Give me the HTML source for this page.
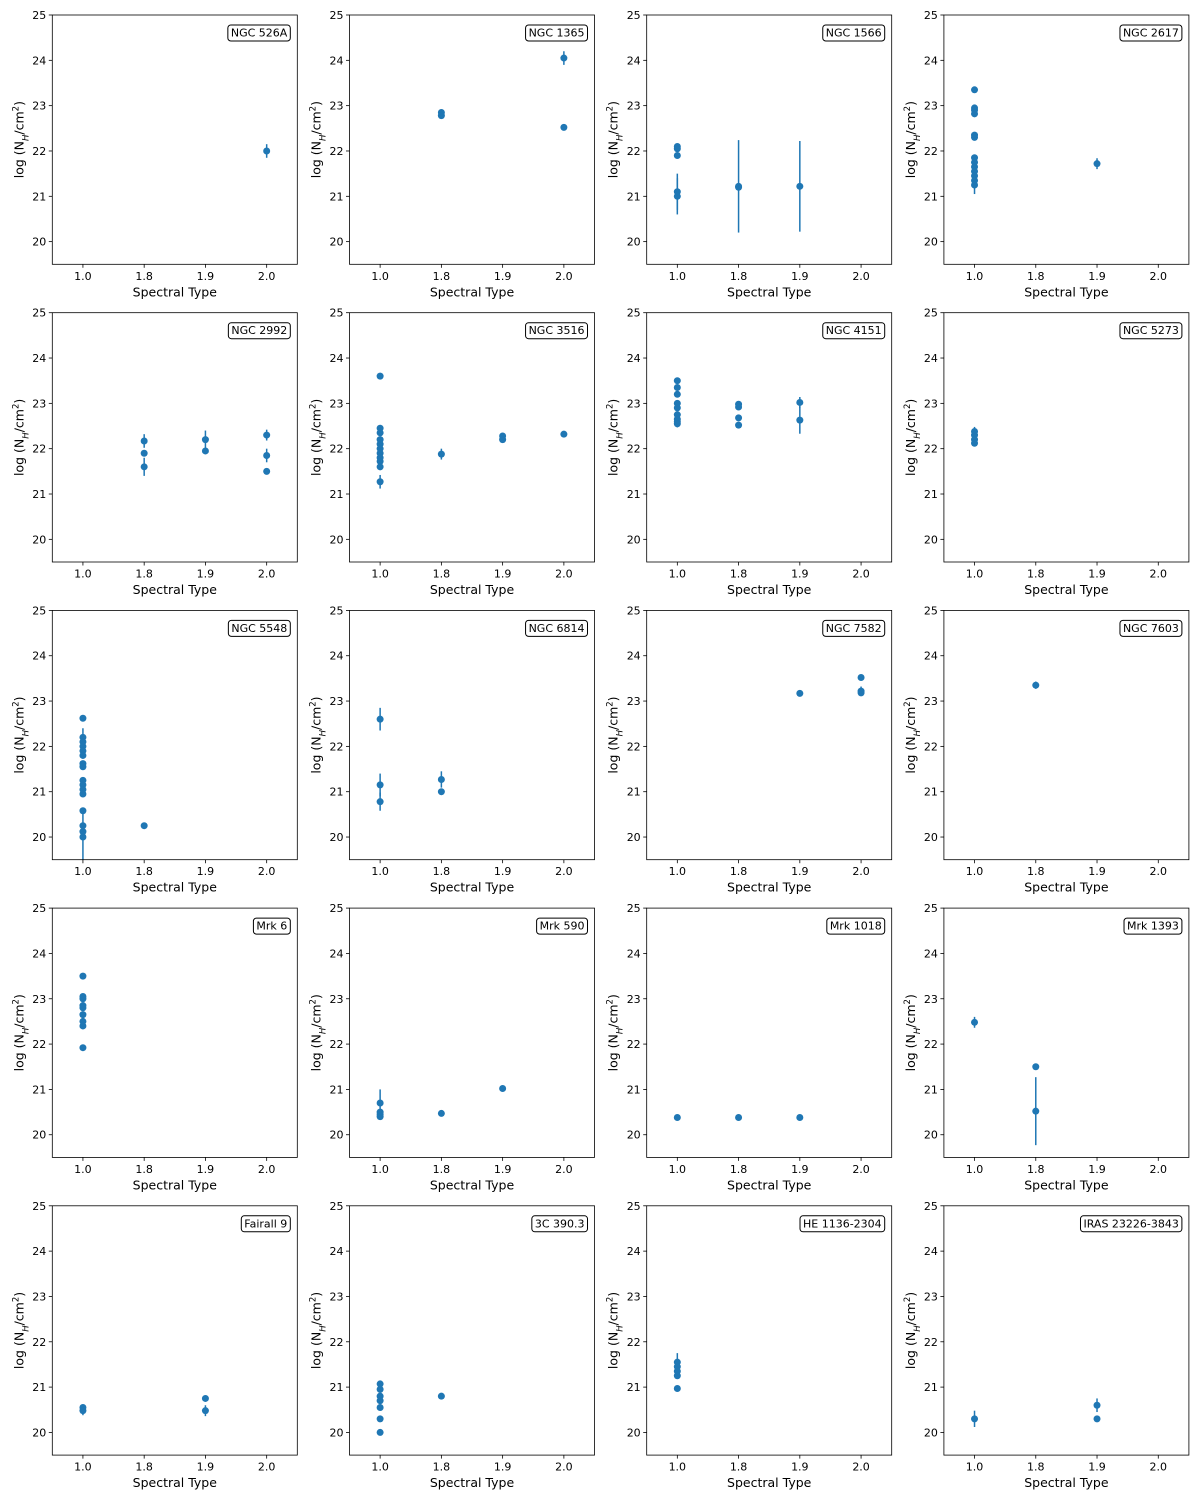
<!DOCTYPE html>
<html><head><meta charset="utf-8"><style>
body{margin:0;background:#fff}
svg{display:block;font-family:"DejaVu Sans","Liberation Sans",sans-serif}
</style></head><body>
<svg id="fig" width="1200" height="1500" xmlns="http://www.w3.org/2000/svg"></svg>
<script>
const categories=['1.0','1.8','1.9','2.0'];
const yTicks=[20,21,22,23,24,25];
const panelNames=['NGC 526A','NGC 1365','NGC 1566','NGC 2617','NGC 2992','NGC 3516','NGC 4151','NGC 5273','NGC 5548','NGC 6814','NGC 7582','NGC 7603','Mrk 6','Mrk 590','Mrk 1018','Mrk 1393','Fairall 9','3C 390.3','HE 1136-2304','IRAS 23226-3843'];
// [category index, log NH, error]
const p0=[[3,22.0,0.15]];
const p1=[[1,22.85,0.05],[1,22.78,0.05],[3,24.05,0.15],[3,22.52,0.05]];
const p2=[[0,22.1,0.05],[0,22.05,0.05],[0,21.9,0.05],[0,21.1,0.4],[0,21.0,0.4],[1,21.22,1.02],[1,21.2,0.05],[2,21.22,1.0]];
const p3=[[0,23.35,0.05],[0,22.95,0.05],[0,22.9,0.05],[0,22.82,0.05],[0,22.35,0.05],[0,22.3,0.05],[0,21.85,0.05],[0,21.75,0.05],[0,21.65,0.05],[0,21.55,0.05],[0,21.45,0.05],[0,21.35,0.05],[0,21.25,0.2],[2,21.72,0.12]];
const p4=[[1,22.17,0.15],[1,21.9,0.05],[1,21.6,0.2],[2,22.2,0.2],[2,21.95,0.05],[3,22.3,0.12],[3,21.85,0.15],[3,21.5,0.05]];
const p5=[[0,23.6,0.05],[0,22.45,0.05],[0,22.35,0.05],[0,22.2,0.05],[0,22.1,0.05],[0,22.0,0.05],[0,21.9,0.05],[0,21.8,0.05],[0,21.72,0.05],[0,21.6,0.05],[0,21.27,0.15],[1,21.88,0.12],[2,22.28,0.05],[2,22.2,0.05],[3,22.32,0.05]];
const p6=[[0,23.5,0.05],[0,23.35,0.05],[0,23.2,0.05],[0,23.0,0.05],[0,22.9,0.05],[0,22.75,0.05],[0,22.65,0.05],[0,22.6,0.05],[0,22.55,0.08],[1,22.98,0.05],[1,22.92,0.05],[1,22.68,0.05],[1,22.52,0.05],[2,23.02,0.12],[2,22.63,0.3]];
const p7=[[0,22.38,0.1],[0,22.3,0.05],[0,22.2,0.05],[0,22.12,0.05]];
const p8=[[0,22.62,0.05],[0,22.2,0.2],[0,22.1,0.05],[0,22.0,0.05],[0,21.9,0.05],[0,21.8,0.05],[0,21.62,0.05],[0,21.55,0.05],[0,21.25,0.05],[0,21.15,0.05],[0,21.05,0.05],[0,20.95,0.05],[0,20.58,0.05],[0,20.25,0.05],[0,20.12,0.05],[0,20.0,0.6],[1,20.25,0.03]];
const p9=[[0,22.6,0.25],[0,21.15,0.25],[0,20.78,0.2],[1,21.27,0.18],[1,21.0,0.05]];
const p10=[[2,23.17,0.05],[3,23.52,0.05],[3,23.22,0.1],[3,23.18,0.05]];
const p11=[[1,23.35,0.08]];
const p12=[[0,23.5,0.05],[0,23.05,0.05],[0,23.0,0.05],[0,22.85,0.05],[0,22.8,0.05],[0,22.65,0.05],[0,22.5,0.05],[0,22.4,0.05],[0,21.92,0.05]];
const p13=[[0,20.7,0.3],[0,20.5,0.05],[0,20.45,0.05],[0,20.4,0.05],[1,20.47,0.03],[2,21.02,0.03]];
const p14=[[0,20.38,0.03],[1,20.38,0.03],[2,20.38,0.03]];
const p15=[[0,22.48,0.12],[1,21.5,0.03],[1,20.52,0.75]];
const p16=[[0,20.55,0.05],[0,20.48,0.1],[2,20.75,0.05],[2,20.48,0.12]];
const p17=[[0,21.07,0.05],[0,20.95,0.05],[0,20.8,0.05],[0,20.7,0.05],[0,20.55,0.05],[0,20.3,0.05],[0,20.0,0.05],[1,20.8,0.03]];
const p18=[[0,21.55,0.2],[0,21.45,0.05],[0,21.35,0.05],[0,21.25,0.05],[0,20.97,0.05]];
const p19=[[0,20.3,0.18],[2,20.6,0.15],[2,20.3,0.05]];
const panelPoints=[p0,p1,p2,p3,p4,p5,p6,p7,p8,p9,p10,p11,p12,p13,p14,p15,p16,p17,p18,p19];

const NS='http://www.w3.org/2000/svg';
const fig=document.getElementById('fig');
function mk(tag,attrs,parent){const e=document.createElementNS(NS,tag);for(const k in attrs)e.setAttribute(k,attrs[k]);(parent||fig).appendChild(e);return e;}
const W=245,H=249.3,YMIN=19.5,YMAX=25;
panelNames.forEach((name,i)=>{
  const col=i%4,row=Math.floor(i/4);
  const L=52.3+col*297.2,T=15+row*297.7;
  const g=mk('g',{});
  
  
  const xs=c=>L+(c+0.5)/4*W;
  const ys=v=>T+(YMAX-v)/(YMAX-YMIN)*H;
  yTicks.forEach(t=>{
    const y=ys(t);
    mk('line',{x1:L-3.5,x2:L,y1:y,y2:y,stroke:'#000','stroke-width':0.8},g);
    const tx=mk('text',{x:L-6,y:y+4,'text-anchor':'end','font-size':11},g);tx.textContent=t;
    
    
  });
  categories.forEach((c,k)=>{
    const x=xs(k);
    mk('line',{x1:x,x2:x,y1:T+H,y2:T+H+3.5,stroke:'#000','stroke-width':0.8},g);
    const tx=mk('text',{x:x,y:T+H+15.5,'text-anchor':'middle','font-size':11},g);tx.textContent=c;
    
    
  });
  panelPoints[i].forEach(p=>{
    const x=xs(p[0]);
    const y1=Math.min(ys(p[1]-p[2]),T+H),y2=Math.max(ys(p[1]+p[2]),T);
    const el=mk('line',{x1:x,x2:x,y1:y1,y2:y2,stroke:'#1f77b4','stroke-width':1.5},g);
    
    
    const c=mk('circle',{cx:x,cy:ys(p[1]),r:3.5,fill:'#1f77b4'},g);
    
    
  });
  mk('rect',{x:L,y:T,width:W,height:H,fill:'none',stroke:'#000','stroke-width':0.8},g);
  const lab=mk('text',{x:L+W-10,y:T+21.5,'text-anchor':'end','font-size':11},g);lab.textContent=name;
  
  
  const bw=lab.getComputedTextLength();
  const box=mk('rect',{x:L+W-13-bw,y:T+10,width:bw+6,height:16,rx:3,fill:'#fff',stroke:'#000','stroke-width':1},g);
  
  
  g.insertBefore(box,lab);
  const xl=mk('text',{x:L+W/2,y:T+H+32,'text-anchor':'middle','font-size':12.5},g);xl.textContent='Spectral Type';
  
  
  const yl=mk('text',{x:0,y:0,'text-anchor':'middle','font-size':12.5,transform:`translate(${L-29},${T+H/2}) rotate(-90)`},g);
  yl.innerHTML='log (N<tspan baseline-shift="sub" font-size="8.5" font-style="italic">H</tspan>/cm<tspan baseline-shift="super" font-size="8.5">2</tspan>)';
  
  
});
</script>
</body></html>
